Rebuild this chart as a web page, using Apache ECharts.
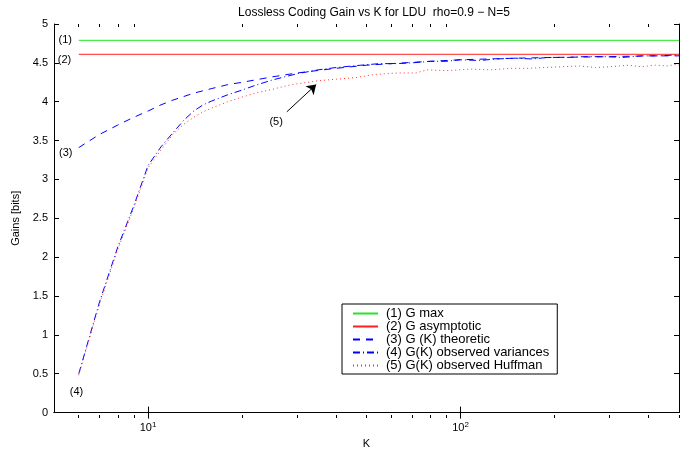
<!DOCTYPE html>
<html>
<head>
<meta charset="utf-8">
<script src="https://cdn.jsdelivr.net/npm/echarts@6/dist/echarts.min.js"></script>
<style>
  html, body { margin: 0; padding: 0; background: #fff; }
  #chart { width: 682px; height: 454px; }
</style>
</head>
<body>
<div id="chart"></div>
<script>
// values
var gMax = 4.79
var gAsymptotic = 4.61
var kRange = [6, 500]

var theoreticK = [6, 7, 8, 9, 10, 11, 12, 14, 16, 18, 20, 25, 30, 40, 50, 60, 80, 100, 150, 200, 300, 400, 500]
var theoreticG = [3.41, 3.58, 3.70, 3.80, 3.88, 3.96, 4.02, 4.11, 4.17, 4.22, 4.25, 4.32, 4.37, 4.43, 4.47, 4.49, 4.52, 4.54, 4.56, 4.57, 4.58, 4.59, 4.59]

var varianceK = [6, 7, 8, 9, 10, 11, 12, 13, 14, 15, 16, 18, 20, 22, 25, 28, 30, 35, 40, 48, 55, 62, 70, 80, 90, 100, 115, 130, 150, 170, 190, 220, 250, 290, 330, 380, 430, 480, 500]
var varianceG = [0.50, 1.43, 2.13, 2.66, 3.18, 3.42, 3.60, 3.76, 3.88, 3.96, 4.01, 4.09, 4.15, 4.21, 4.28, 4.33, 4.36, 4.41, 4.44, 4.47, 4.49, 4.49, 4.50, 4.52, 4.52, 4.54, 4.53, 4.55, 4.56, 4.55, 4.57, 4.57, 4.58, 4.58, 4.57, 4.59, 4.59, 4.60, 4.60]

var huffmanK = [6, 7, 8, 9, 10, 11, 12, 13, 14, 15, 16, 18, 20, 22, 25, 28, 30, 35, 40, 46, 53, 63, 72, 78, 90, 108, 125, 145, 165, 185, 210, 240, 270, 300, 345, 380, 420, 460, 490, 500]
var huffmanG = [0.48, 1.40, 2.10, 2.63, 3.15, 3.38, 3.58, 3.71, 3.80, 3.87, 3.92, 4.00, 4.06, 4.11, 4.16, 4.21, 4.23, 4.27, 4.29, 4.31, 4.35, 4.37, 4.37, 4.41, 4.40, 4.42, 4.41, 4.43, 4.43, 4.44, 4.45, 4.46, 4.44, 4.45, 4.47, 4.45, 4.47, 4.46, 4.48, 4.47]

var legendNames = ['(1) G max', '(2) G asymptotic', '(3) G (K) theoretic', '(4) G(K) observed variances', '(5) G(K) observed Huffman']
var majorTicks = [10, 100]
var minorTicks = [6, 7, 8, 9, 20, 30, 40, 50, 60, 70, 80, 90, 200, 300, 400, 500]

// curve labels and the arrow, in data units [K, gain]
var curveLabels = [[5.43, 4.79], [5.4, 4.54], [5.45, 3.34], [5.9, 0.27], [25.7, 3.74]]
var arrowFrom = [27.8, 3.87]
var arrowTo = [34.5, 4.22]

function pairs(xs, ys) {
  var out = []
  for (var i = 0; i < xs.length; i++) {
    out.push([xs[i], ys[i]])
  }
  return out
}

function tag(i) {
  return {
    symbol: 'circle',
    symbolSize: 0,
    silent: true,
    label: { show: true, position: 'inside', color: '#000', fontSize: 11, fontFamily: font, formatter: '(' + (i + 1) + ')' },
    data: [{ coord: curveLabels[i] }]
  }
}

var font = 'Liberation Sans, Arial, Helvetica, sans-serif'
var chart = echarts.init(document.getElementById('chart'))

function kAxis(grid, position, ticks, len, withLabels) {
  return {
    type: 'log',
    logBase: 10,
    gridIndex: grid,
    position: position,
    min: 5,
    max: 500,
    name: withLabels ? 'K' : '',
    nameLocation: 'middle',
    nameGap: 24,
    nameTextStyle: { color: '#000', fontSize: 11, fontFamily: font },
    axisLine: { show: grid === 0, lineStyle: { color: '#000', width: 1 } },
    axisTick: { show: true, inside: true, length: len, customValues: ticks, lineStyle: { color: '#000' } },
    axisLabel: {
      show: withLabels,
      customValues: majorTicks,
      margin: 8,
      color: '#000',
      fontSize: 11,
      fontFamily: font,
      formatter: function (v) {
        return '10{sup|' + Math.round(Math.log10(v)) + '}'
      },
      rich: { sup: { fontSize: 8, verticalAlign: 'top', padding: [0, 0, 6, 0], color: '#000', fontFamily: font } }
    },
    splitLine: { show: false },
    minorTick: { show: false }
  }
}

function gainAxis(grid, position, withLabels) {
  return {
    type: 'value',
    gridIndex: grid,
    position: position,
    show: grid === 0,
    min: 0,
    max: 5,
    interval: 0.5,
    name: withLabels ? 'Gains [bits]' : '',
    nameLocation: 'middle',
    nameGap: 27,
    nameTextStyle: { color: '#000', fontSize: 11, fontFamily: font },
    axisLine: { show: true, lineStyle: { color: '#000', width: 1 } },
    axisTick: { show: true, inside: true, length: 5, lineStyle: { color: '#000' } },
    axisLabel: { show: withLabels, color: '#000', fontSize: 11, fontFamily: font, margin: 6 },
    splitLine: { show: false }
  }
}

chart.setOption({
  animation: false,
  backgroundColor: '#fff',
  title: {
    text: 'Lossless Coding Gain vs K for LDU  rho=0.9 \u2212 N=5',
    left: 369,
    top: 2,
    textAlign: 'center',
    textStyle: { fontSize: 12, fontWeight: 'normal', color: '#000', fontFamily: font }
  },
  legend: {
    orient: 'vertical',
    left: 342,
    top: 304,
    data: legendNames,
    backgroundColor: '#fff',
    borderColor: '#000',
    borderWidth: 1,
    borderRadius: 0,
    padding: [3, 8, 2, 10],
    itemGap: 0,
    itemWidth: 25,
    itemHeight: 10,
    selectedMode: false,
    itemStyle: { opacity: 0 },
    textStyle: { fontSize: 13, lineHeight: 13, color: '#000', fontFamily: font, padding: [0, 0, 0, 3] }
  },
  grid: [
    { left: 54, right: 3, top: 24, bottom: 36 },
    { left: 54, right: 3, top: 24, bottom: 36 }
  ],
  xAxis: [
    kAxis(0, 'bottom', majorTicks, 6, true),
    kAxis(0, 'top', majorTicks, 6, false),
    kAxis(1, 'bottom', minorTicks, 3, false),
    kAxis(1, 'top', minorTicks, 3, false)
  ],
  yAxis: [
    gainAxis(0, 'left', true),
    gainAxis(0, 'right', false),
    gainAxis(1, 'left', false)
  ],
  series: [
    {
      name: legendNames[0],
      type: 'line',
      showSymbol: false,
      symbol: 'none',
      lineStyle: { color: '#22e622', width: 1 },
      itemStyle: { color: '#22e622' },
      data: [[kRange[0], gMax], [kRange[1], gMax]],
      markPoint: tag(0)
    },
    {
      name: legendNames[1],
      type: 'line',
      showSymbol: false,
      symbol: 'none',
      lineStyle: { color: '#ff2020', width: 1 },
      itemStyle: { color: '#ff2020' },
      data: [[kRange[0], gAsymptotic], [kRange[1], gAsymptotic]],
      markPoint: tag(1)
    },
    {
      name: legendNames[2],
      type: 'line',
      showSymbol: false,
      symbol: 'none',
      lineStyle: { color: '#0000ff', width: 1, type: [7, 6] },
      itemStyle: { color: '#0000ff' },
      data: pairs(theoreticK, theoreticG),
      markPoint: tag(2)
    },
    {
      name: legendNames[3],
      type: 'line',
      showSymbol: false,
      symbol: 'none',
      lineStyle: { color: '#0000ff', width: 1, type: [7, 3, 1, 3] },
      itemStyle: { color: '#0000ff' },
      data: pairs(varianceK, varianceG),
      markPoint: tag(3)
    },
    {
      name: legendNames[4],
      type: 'line',
      showSymbol: false,
      symbol: 'none',
      lineStyle: { color: '#ff3030', width: 1, type: [1, 3] },
      itemStyle: { color: '#ff3030' },
      data: pairs(huffmanK, huffmanG),
      markPoint: tag(4),
      markLine: {
        silent: true,
        symbol: ['none', 'arrow'],
        symbolSize: 9,
        label: { show: false },
        lineStyle: { color: '#000', width: 1, type: 'solid' },
        data: [[{ coord: arrowFrom }, { coord: arrowTo }]]
      }
    }
  ]
})
</script>
</body>
</html>
